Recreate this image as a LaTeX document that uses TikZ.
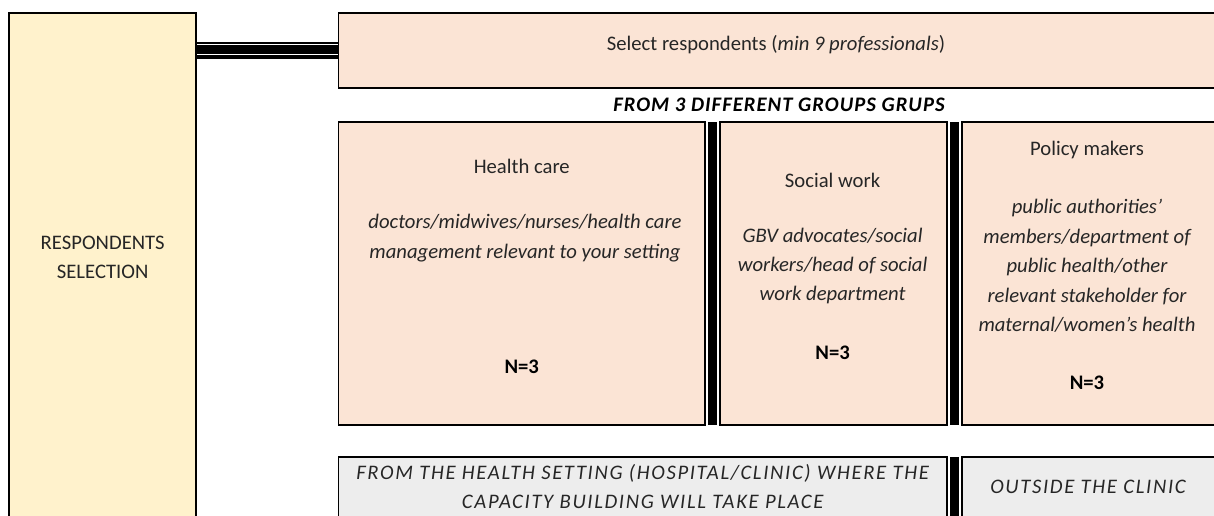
\documentclass[tikz,border=0pt]{standalone}
\usepackage{fontspec}
\usetikzlibrary{calc}
\setmainfont{Carlito}
\newfontfamily\spacedfont[LetterSpace=8]{Carlito}
\newfontfamily\headfont[LetterSpace=5]{Carlito}
\definecolor{leftfill}{HTML}{FFF2CC}
\definecolor{pinkfill}{HTML}{FBE4D5}
\definecolor{grayfill}{HTML}{EDEDED}
\definecolor{txtc}{HTML}{262626}
\begin{document}
\begin{tikzpicture}[x=0.75pt,y=-0.75pt,
  box/.style={draw=black, line width=1.3pt, inner sep=0pt, outer sep=0pt, rectangle},
  lab/.style={text=txtc, font=\fontsize{15.5}{22.1}\selectfont, align=center, inner sep=0pt},
  itlab/.style={text=txtc, font=\fontsize{15.5}{22.1}\selectfont\itshape, align=center, inner sep=0pt},
  cnt/.style={text=black, font=\fontsize{15.5}{22.1}\selectfont\bfseries, align=center, inner sep=0pt},
  graylab/.style={text=txtc, font=\fontsize{15.5}{22.1}\selectfont\spacedfont\itshape, align=center, inner sep=0pt},
  bar/.style={line width=7.1pt, line cap=butt}
]
\useasboundingbox (0,0) rectangle (1214,516);
\clip (0,0) rectangle (1214,516);

% boxes
\node[box, fill=leftfill, minimum width=140.25pt, minimum height=410.25pt] (left) at (102.7,286.5) {};
\node[box, fill=pinkfill, minimum width=676.05pt, minimum height=56.55pt] (top) at (789.3,50.6) {};
\node[box, fill=pinkfill, minimum width=274.7pt, minimum height=227.2pt] (health) at (521.75,273.75) {};
\node[box, fill=pinkfill, minimum width=170.25pt, minimum height=227.2pt] (social) at (833.5,273.75) {};
\node[box, fill=pinkfill, minimum width=208.6pt, minimum height=227.2pt] (policy) at (1100.95,273.75) {};
\node[box, fill=grayfill, minimum width=456.15pt, minimum height=77.25pt] (grayl) at (642.7,508.5) {};
\node[box, fill=grayfill, minimum width=208.6pt, minimum height=77.25pt] (grayr) at (1100.95,508.5) {};

% triple connector
\coordinate (cA) at (0,50.4);
\coordinate (cB) at (0,49.6);
\draw[line width=12.9pt] (left.east |- cA) -- (top.west |- cA);
\draw[draw=white, line width=0.8pt, double=black, double distance=6.7pt, shorten <=0.65pt, shorten >=0.65pt] (left.east |- cB) -- (top.west |- cB);

% separator bars
\draw[bar] ($(health.north east)!0.5!(social.north west)$) -- ($(health.south east)!0.5!(social.south west)$);
\draw[bar] ($(social.north east)!0.5!(policy.north west)$) -- ($(social.south east)!0.5!(policy.south west)$);
\draw[bar] ($(grayl.north east)!0.5!(grayr.north west)$) -- ($(grayl.south east)!0.5!(grayr.south west)$);

% texts
\node[lab] (leftlab) at (102.7,257.2) {RESPONDENTS\\SELECTION};
\node[lab] (toplab) at (776,44.5) {Select respondents (\textit{min 9 professionals})};
\node[cnt, font=\fontsize{15.5}{22.1}\selectfont\headfont\bfseries\itshape] (fromlab) at (779,105) {FROM 3 DIFFERENT GROUPS GRUPS};

\node[lab] (hct) at (521.75,166.7) {Health care};
\node[itlab] (hcd) at (525,238) {doctors/midwives/nurses/health care\\management relevant to your setting};
\node[cnt] (hcn) at (521.75,367) {N=3};

\node[lab] (swt) at (832.6,180) {Social work};
\node[itlab] (swd) at (832.6,266) {GBV advocates/social\\workers/head of social\\work department};
\node[cnt] (swn) at (832.6,353) {N=3};

\node[lab] (pmt) at (1087,150) {Policy makers};
\node[itlab] (pmd) at (1087,266) {public authorities’\\members/department of\\public health/other\\relevant stakeholder for\\maternal/women’s health};
\node[cnt] (pmn) at (1087,383) {N=3};

\node[graylab] (gl) at (642.7,486.5) {FROM THE HEALTH SETTING (HOSPITAL/CLINIC) WHERE THE\\CAPACITY BUILDING WILL TAKE PLACE};
\node[graylab] (gr) at (1088,486.7) {OUTSIDE THE CLINIC};
\end{tikzpicture}
\end{document}
